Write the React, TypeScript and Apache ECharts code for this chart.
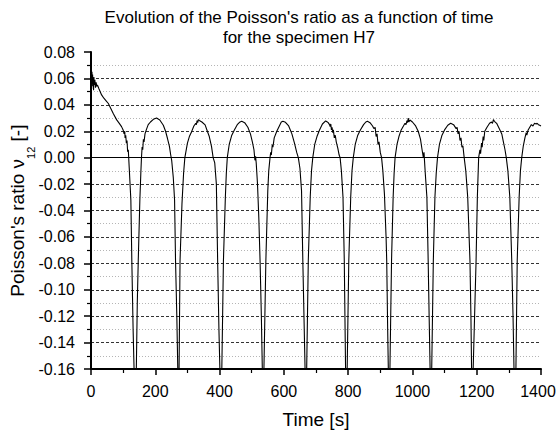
import React, { useEffect, useRef } from "react";
import * as echarts from "echarts";

// ---- data (time [s], Poisson's ratio) ----
const xTicks = [0, 200, 400, 600, 800, 1000, 1200, 1400];

const start: [number, number][] = [
  [0, 0.055], [1, 0.062], [2, 0.052], [3, 0.065], [4, 0.056], [5, 0.063], [6, 0.054],
  [7, 0.06], [8, 0.051], [9, 0.061], [10, 0.055], [12, 0.059], [14, 0.053], [16, 0.057],
  [18, 0.054], [20, 0.055], [25, 0.052], [33, 0.0475], [40, 0.045], [47, 0.043],
  [54, 0.041], [62, 0.037], [70, 0.033], [80, 0.0286], [88, 0.026], [95, 0.0235],
  [100, 0.021], [103, 0.018], [105, 0.02], [106, 0.015], [108, 0.017], [110, 0.011],
  [112, 0.013], [114, 0.0045], [116, 0.006], [119, -0.008], [124, -0.032],
  [127, -0.078], [131, -0.13], [134, -0.16], [137, -0.3],
];

const cycle1: [number, number][] = [
  [141, -0.16], [144, -0.11], [147, -0.078], [152, -0.032], [155, -0.012], [157, 0.0],
  [159, 0.008], [161, 0.006], [163, 0.014], [165, 0.012], [168, 0.018], [172, 0.021],
  [178, 0.025], [185, 0.027], [194, 0.029], [204, 0.03], [214, 0.0285], [225, 0.0245],
  [232, 0.02], [238, 0.0145], [244, 0.0085], [248, 0.002], [251, -0.002], [256, -0.015],
  [260, -0.032], [263, -0.078], [267, -0.12], [270, -0.16], [272, -0.3],
];

const cycle2: [number, number][] = [
  [274, -0.16], [277, -0.078], [283, -0.035], [288, -0.012], [292, 0.0], [300, 0.011],
  [306, 0.016], [313, 0.0197], [320, 0.024], [326, 0.026], [328, 0.025], [330, 0.028],
  [332, 0.0265], [334, 0.0288], [337, 0.0282], [345, 0.027], [355, 0.0248], [362, 0.02],
  [368, 0.016], [375, 0.0083], [380, 0.0], [385, -0.004], [390, -0.02], [394, -0.078],
  [398, -0.13], [401, -0.16], [404, -0.3],
];

const cycle3: [number, number][] = [
  [407, -0.16], [412, -0.078], [418, -0.03], [421, -0.012], [424, 0.0], [430, 0.01],
  [438, 0.017], [446, 0.021], [455, 0.025], [462, 0.0268], [469, 0.0275], [478, 0.0265],
  [488, 0.023], [496, 0.018], [502, 0.012], [507, 0.006], [510, -0.002], [512, 0.001],
  [514, -0.004], [518, -0.02], [522, -0.045], [526, -0.078], [530, -0.12], [533, -0.16],
  [535, -0.3],
];

const cycle4: [number, number][] = [
  [538, -0.16], [544, -0.078], [550, -0.025], [553, -0.01], [557, 0.0], [559, 0.004],
  [561, 0.002], [564, 0.01], [566, 0.008], [570, 0.015], [578, 0.02], [586, 0.024],
  [592, 0.027], [597, 0.0275], [605, 0.0268], [615, 0.024], [625, 0.018], [633, 0.011],
  [640, 0.004], [645, 0.0], [650, -0.008], [655, -0.025], [659, -0.078], [663, -0.125],
  [666, -0.16], [668, -0.3],
];

const cycle5: [number, number][] = [
  [671, -0.16], [676, -0.078], [682, -0.03], [686, -0.01], [690, 0.0], [696, 0.01],
  [703, 0.016], [711, 0.021], [720, 0.0255], [730, 0.0278], [734, 0.0272], [738, 0.0265],
  [742, 0.025], [744, 0.0235], [746, 0.0255], [748, 0.021], [750, 0.023], [752, 0.019],
  [754, 0.021], [757, 0.015], [760, 0.017], [763, 0.012], [768, 0.007], [772, 0.002],
  [775, 0.0], [779, -0.01], [784, -0.03], [788, -0.078], [790, -0.12], [792, -0.16],
  [794, -0.3],
];

const cycle6: [number, number][] = [
  [797, -0.16], [802, -0.078], [808, -0.03], [812, -0.01], [816, 0.0], [822, 0.01],
  [830, 0.017], [838, 0.021], [848, 0.025], [855, 0.027], [860, 0.0275], [868, 0.0265],
  [876, 0.024], [880, 0.022], [884, 0.023], [887, 0.016], [890, 0.018], [893, 0.01],
  [896, 0.012], [900, 0.004], [904, 0.0], [908, -0.01], [913, -0.028], [918, -0.06],
  [920, -0.078], [923, -0.13], [925, -0.16], [927, -0.3],
];

const cycle7: [number, number][] = [
  [930, -0.16], [935, -0.078], [940, -0.03], [943, -0.012], [946, 0.0], [952, 0.01],
  [958, 0.016], [965, 0.021], [972, 0.024], [977, 0.026], [980, 0.025], [983, 0.028],
  [985, 0.0265], [987, 0.03], [989, 0.027], [992, 0.0285], [1000, 0.027], [1010, 0.024],
  [1018, 0.02], [1025, 0.014], [1030, 0.006], [1032, 0.003], [1034, 0.0], [1036, 0.004],
  [1040, -0.012], [1045, -0.03], [1049, -0.078], [1052, -0.12], [1055, -0.16], [1057, -0.3],
];

const cycle8: [number, number][] = [
  [1060, -0.16], [1065, -0.078], [1070, -0.03], [1074, -0.012], [1078, 0.0], [1084, 0.01],
  [1092, 0.017], [1100, 0.021], [1110, 0.0245], [1119, 0.026], [1128, 0.025], [1136, 0.022],
  [1139, 0.023], [1142, 0.018], [1145, 0.02], [1148, 0.013], [1151, 0.015], [1154, 0.008],
  [1157, 0.009], [1161, 0.0], [1166, -0.01], [1172, -0.03], [1179, -0.078], [1182, -0.12],
  [1184, -0.16], [1186, -0.3],
];

const cycle9: [number, number][] = [
  [1189, -0.16], [1198, -0.078], [1202, -0.03], [1206, 0.0], [1210, 0.006], [1212, 0.003],
  [1215, 0.011], [1217, 0.008], [1220, 0.016], [1222, 0.013], [1225, 0.02], [1232, 0.023],
  [1240, 0.026], [1246, 0.027], [1249, 0.026], [1252, 0.0288], [1255, 0.0275], [1262, 0.026],
  [1270, 0.022], [1278, 0.018], [1283, 0.012], [1288, 0.006], [1292, 0.0], [1297, -0.01],
  [1303, -0.03], [1309, -0.078], [1313, -0.12], [1316, -0.16], [1319, -0.3],
];

const cycle10: [number, number][] = [
  [1322, -0.16], [1326, -0.078], [1332, -0.03], [1336, -0.01], [1340, 0.0], [1345, 0.009],
  [1350, 0.015], [1354, 0.019], [1356, 0.017], [1360, 0.021], [1365, 0.023], [1370, 0.025],
  [1375, 0.024], [1380, 0.026], [1385, 0.0255], [1388, 0.026], [1392, 0.025], [1396, 0.0245],
  [1400, 0.024],
];

const poissonData = [
  ...start, ...cycle1, ...cycle2, ...cycle3, ...cycle4, ...cycle5,
  ...cycle6, ...cycle7, ...cycle8, ...cycle9, ...cycle10,
];

const FONT = "'Liberation Sans', Arial, Helvetica, sans-serif";

export default function App() {
  const ref = useRef<HTMLDivElement>(null);
  useEffect(() => {
    if (!ref.current) return;
    const chart = echarts.init(ref.current, null, { renderer: "svg" });
    chart.setOption({
      animation: false,
      backgroundColor: "#fff",
      textStyle: { fontFamily: FONT },
      graphic: [
        {
          type: "text",
          x: 299,
          y: 7,
          style: {
            text: "Evolution of the Poisson's ratio as a function of time\nfor the specimen H7",
            align: "center",
            verticalAlign: "top",
            fontSize: 17,
            lineHeight: 20,
            fontFamily: FONT,
            fill: "#000",
          },
        },
      ],
      grid: { left: 91, right: 16, top: 52, bottom: 61, containLabel: false, outerBoundsMode: "none" },
      xAxis: {
        type: "value",
        min: xTicks[0],
        max: xTicks[xTicks.length - 1],
        interval: 200,
        name: "Time [s]",
        nameLocation: "middle",
        nameGap: 41,
        nameMoveOverlap: false,
        nameTextStyle: { fontSize: 19, color: "#000", fontFamily: FONT },
        axisLine: { show: true, onZero: false, lineStyle: { color: "#000", width: 2 } },
        axisTick: { show: true, inside: false, length: 6, lineStyle: { color: "#000", width: 1.5 } },
        minorTick: { show: true, splitNumber: 2, length: 4, lineStyle: { color: "#000", width: 1.2 } },
        axisLabel: {
          fontSize: 16,
          color: "#000",
          margin: 14,
          fontFamily: FONT,
          formatter: (v: number) => {
            const s = String(Math.round(v));
            return v >= xTicks[xTicks.length - 1] ? "{last|" + s + "}" : s;
          },
          rich: {
            last: { fontSize: 16, color: "#000", fontFamily: FONT, padding: [0, 6, 0, 0] },
          },
        },
        splitLine: { show: false },
      },
      yAxis: {
        type: "value",
        min: -0.16,
        max: 0.08,
        interval: 0.02,
        name: "{m|Poisson's ratio ν}{sub|12}{m| [-]}{sp| }",
        nameLocation: "middle",
        nameGap: 55,
        nameMoveOverlap: false,
        nameTextStyle: {
          fontSize: 19,
          color: "#000",
          fontFamily: FONT,
          rich: {
            m: { fontSize: 19, lineHeight: 19, verticalAlign: "top", color: "#000", fontFamily: FONT },
            sub: { fontSize: 11, lineHeight: 11, verticalAlign: "bottom", color: "#000", fontFamily: FONT },
            sp: { fontSize: 1, lineHeight: 28, color: "#000", fontFamily: FONT },
          },
        },
        axisLine: { show: true, lineStyle: { color: "#000", width: 2 } },
        axisTick: { show: true, inside: false, length: 7, lineStyle: { color: "#000", width: 1.5 } },
        minorTick: { show: true, splitNumber: 2, length: 4, lineStyle: { color: "#000", width: 1.2 } },
        axisLabel: {
          fontSize: 16,
          color: "#000",
          margin: 16,
          fontFamily: FONT,
          formatter: (v: number) => {
            const r = Math.round(v * 100) / 100;
            return (Math.abs(r) < 1e-9 ? 0 : r).toFixed(2);
          },
        },
        splitLine: {
          show: true,
          showMaxLine: false,
          showMinLine: false,
          lineStyle: { color: "#333", width: 1, type: [3, 2] },
        },
        minorSplitLine: {
          show: true,
          lineStyle: { color: "#b5b5b5", width: 1, type: [1, 2] },
        },
      },
      series: [
        {
          type: "line",
          data: poissonData,
          showSymbol: false,
          symbol: "none",
          clip: true,
          lineStyle: { color: "#000", width: 1.1 },
          markLine: {
            silent: true,
            symbol: ["none", "none"],
            label: { show: false },
            lineStyle: { color: "#000", width: 1, type: "solid" },
            data: [{ yAxis: 0 }],
          },
        },
      ],
    });
    return () => chart.dispose();
  }, []);
  return (
    <div
      ref={ref}
      style={{ position: "absolute", left: 0, top: 0, width: 557, height: 430 }}
    />
  );
}
